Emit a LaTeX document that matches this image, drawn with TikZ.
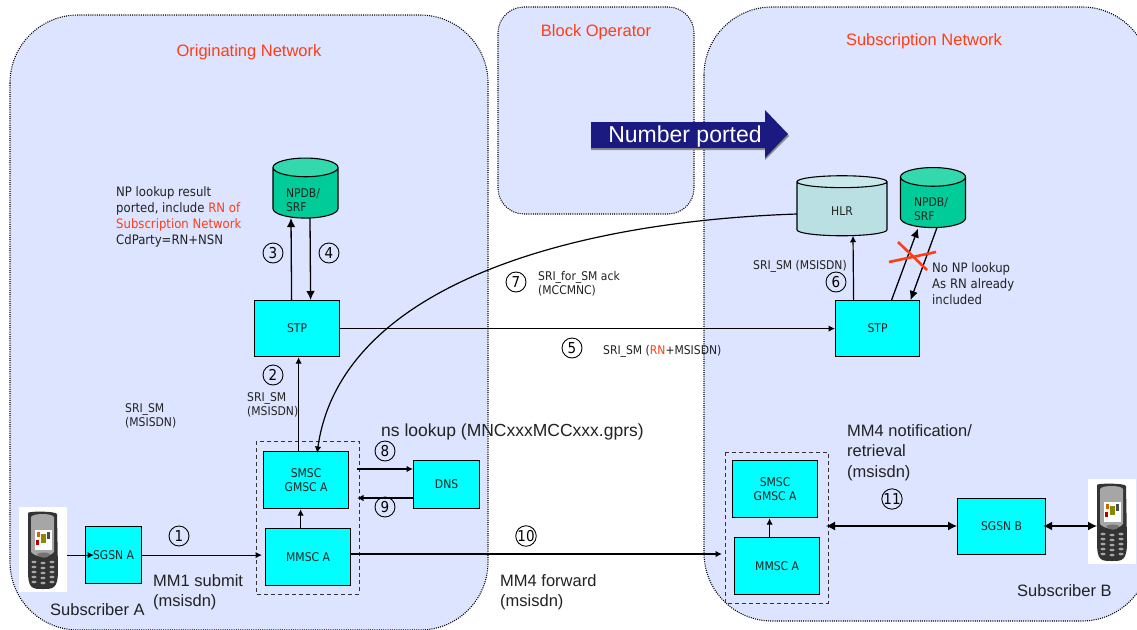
\documentclass[tikz,border=0pt]{standalone}
\usepackage{fontspec}
\setmainfont{Liberation Sans}
\newfontfamily\tah{DejaVu Sans Condensed}
\usetikzlibrary{shapes.geometric,arrows.meta,positioning}
\definecolor{regionfill}{HTML}{DDE4FF}
\definecolor{boxcyan}{HTML}{00FFFF}
\definecolor{npbody}{HTML}{00CC99}
\definecolor{nptop}{HTML}{33D9AD}
\definecolor{hlrbody}{HTML}{BBE0E3}
\definecolor{hlrtop}{HTML}{C8E8EB}
\definecolor{redlabel}{HTML}{FF3D14}
\definecolor{navyarrow}{HTML}{1A1A80}
\definecolor{txt}{HTML}{222222}
\tikzset{
  x=1pt,y=-1pt,
  region/.style={draw=black,line width=1.1pt,dash pattern=on 1pt off 1.2pt,fill=regionfill},
  cbox/.style={draw=black,line width=1.2pt,fill=boxcyan,anchor=north west,inner sep=0pt,font=\tah\fontsize{12}{14}\selectfont,text=txt,align=center},
  conn/.style={draw=black,line width=1.2pt,-{Latex[length=6.5pt,width=6.5pt]}},
  heavy/.style={draw=black,line width=1.3pt,-{Latex[length=9pt,width=8.5pt]}},
  both/.style={draw=black,line width=1.3pt,{Latex[length=9pt,width=9pt]}-{Latex[length=9pt,width=9pt]}},
  fence/.style={draw=black!80,line width=1pt,dash pattern=on 4pt off 3pt},
  small/.style={font=\tah\fontsize{13}{16}\selectfont,text=txt,align=left,inner sep=0pt},
  tiny/.style={font=\tah\fontsize{12}{14}\selectfont,text=txt,align=left,inner sep=0pt},
  big/.style={font=\fontsize{16.5}{20.5}\selectfont,text=txt,align=left,inner sep=0pt},
  title/.style={font=\fontsize{16.5}{18}\selectfont,text=redlabel,inner sep=0pt},
  num/.style={circle,draw=black,line width=0.9pt,inner sep=0pt,minimum size=20pt,font=\tah\fontsize{15}{15}\selectfont,text=black},
  drum/.style={cylinder,shape border rotate=90,aspect=0.55,draw=black,line width=1.1pt,inner sep=0pt,outer sep=0pt,cylinder uses custom fill,font=\tah\fontsize{12}{14}\selectfont,align=left},
  npdrum/.style={drum,cylinder end fill=nptop,cylinder body fill=npbody,minimum width=65pt,minimum height=60pt},
  hlrdrum/.style={drum,cylinder end fill=hlrtop,cylinder body fill=hlrbody,minimum width=90pt,minimum height=60pt},
  drumtext/.style={font=\tah\fontsize{12}{14}\selectfont,text=txt,align=left,inner sep=0pt},
  phonebg/.style={fill=white,draw=none,inner sep=0pt,anchor=north west,minimum width=48pt,minimum height=85pt},
}
\newcommand{\phonepic}[1]{%
  \begin{scope}[shift={(#1)}]
    \fill[black!80] (9,3) .. controls (9,1) and (37,1) .. (38,4) -- (39,60) .. controls (39,79) and (34,79) .. (24,79) .. controls (13,79) and (9,79) .. (9,60) -- cycle;
    \fill[black!35] (12,7) .. controls (14,3) and (33,3) .. (35,7) -- (35,42) .. controls (30,48) and (17,48) .. (12,42) -- cycle;
    \fill[white] (16,20) rectangle (33,40);
    \fill[orange!80!black] (18,22) rectangle (21,27);
    \fill[olive] (22,24) rectangle (27,33);
    \fill[black!70] (28,22) rectangle (31,29);
    \fill[red!70!black] (17,30) rectangle (20,35);
    \fill[black!55] (18,44) .. controls (22,42) and (28,42) .. (31,44) .. controls (30,49) and (20,49) .. (18,44) -- cycle;
    \foreach \r/\yy in {0/52,1/57,2/62,3/67,4/72}{
      \fill[black!35] (15,\yy) ellipse (2.6pt and 1.3pt);
      \fill[black!35] (24,\yy+1) ellipse (2.6pt and 1.3pt);
      \fill[black!35] (33,\yy) ellipse (2.6pt and 1.3pt);
    }
  \end{scope}}
\begin{document}
\begin{tikzpicture}
\useasboundingbox (0,0) rectangle (1137,629);
\clip (0,0) rectangle (1137,629);
\fill[white] (0,0) rectangle (1137,629);
% regions
\draw[region,rounded corners=68pt] (10,15) rectangle (488,630);
\draw[region,rounded corners=26pt] (498,7) rectangle (694,214);
\draw[region,rounded corners=68pt] (704,7) rectangle (1150,621);
\node[title,anchor=center] (t1) at (249,52) {Originating Network};
\node[title,anchor=center] (t2) at (596,32) {Block Operator};
\node[title,anchor=center] (t3) at (924,41) {Subscription Network};
% arrow banner
\fill[black!45] (591,124) -- (765,124) -- (765,112) -- (789,136) -- (765,160) -- (765,150) -- (591,150) -- cycle;
\fill[navyarrow] (591,122) -- (765,122) -- (765,110) -- (788,134) -- (765,158) -- (765,148) -- (591,148) -- cycle;
\node[font=\fontsize{23}{25}\selectfont,text=white,inner sep=0pt] (banner) at (685,137) {Number ported};
% boxes
\node[cbox,minimum width=85pt,minimum height=56pt] (stpa) at (254,300) {STP};
\node[cbox,minimum width=84pt,minimum height=56pt] (stpb) at (835,300) {STP};
\node[cbox,minimum width=85pt,minimum height=57pt] (smsca) at (263,451) {SMSC\\GMSC A};
\node[cbox,minimum width=85pt,minimum height=57pt] (mmsca) at (265,528) {MMSC A};
\node[cbox,minimum width=66pt,minimum height=48pt] (dns) at (413,460) {DNS};
\node[cbox,minimum width=56pt,minimum height=57pt] (sgsna) at (85,526) {SGSN A};
\node[cbox,minimum width=85pt,minimum height=57pt] (smscb) at (732,460) {SMSC\\GMSC A};
\node[cbox,minimum width=85pt,minimum height=57pt] (mmscb) at (734,537) {MMSC A};
\node[cbox,minimum width=88pt,minimum height=56pt] (sgsnb) at (957,498) {SGSN B};
\draw[fence] (256,441) rectangle (359,594);
\draw[fence] (725,452) rectangle (828,603);
% cylinders
\node[npdrum] (npa) at (305.5,193) {\phantom{NPDB/}\\\phantom{SRF}};
\node[npdrum] (npb) at (933,202.5) {\phantom{NPDB/}\\\phantom{SRF}};
\node[hlrdrum] (hlr) at (842,209) {\phantom{HLR}};
\node[drumtext] (npat) at (303,200) {NPDB/\\SRF};
\node[drumtext] (npbt) at (931,209) {NPDB/\\SRF};
\node[drumtext] (hlrt) at (842,211) {HLR};
% phones
\node[phonebg] (pha) at (19,507) {};
\phonepic{19,510}
\node[phonebg] (phb) at (1088,479) {};
\phonepic{1088,482}
% connectors
\draw[conn] (pha.east |- sgsna.west) -- ([xshift=9pt]sgsna.west);
\draw[conn] (sgsna.east) -- ([xshift=-3pt]mmsca.west |- sgsna.east);
\draw[conn] ([xshift=-7.5pt]smsca.north) -- ([xshift=1.5pt]stpa.south);
\draw[conn] ([xshift=-7.5pt]mmsca.north) -- ([xshift=-5.5pt]smsca.south);
\draw[heavy] ([xshift=-5.5pt]stpa.north) -- ([xshift=-14.5pt]npa.south);
\draw[heavy] ([xshift=4.5pt]npa.south) -- ([xshift=13.5pt]stpa.north);
\draw[conn] (stpa.east) -- (stpb.west);
\draw[conn] ([xshift=-24pt]stpb.north) -- (hlr.south -| 853,0);
\draw[heavy] ([xshift=14pt]stpb.north) -- ([xshift=-15pt,yshift=-1pt]npb.south);
\draw[heavy] ([xshift=4pt]npb.south) -- ([xshift=33pt]stpb.north);
\draw[conn] (357,469) -- (dns.west |- 0,469);
\draw[conn] (dns.west |- 0,498) -- (357,498);
\draw[conn] (mmsca.east |- 0,554) -- (722,554);
\draw[conn] ([xshift=-7.5pt]mmscb.north) -- ([xshift=-5.5pt]smscb.south);
\draw[both] (826,526) -- (sgsnb.west |- 0,526);
\draw[both] ([xshift=-3pt]sgsnb.east |- 0,526) -- (1097,526);
\draw[conn] (hlr.west |- 0,214) .. controls (560,222) and (340,290) .. ([xshift=11pt,yshift=-2pt]smsca.north);
% red cross
\draw[redlabel,line width=2.6pt] (898,242) -- (927,270);
\draw[redlabel,line width=2.6pt] (889,262) -- (936,252);
% numbers
\node[num] (n1) at (179,536) {1};
\node[num] (n2) at (273,375) {2};
\node[num] (n3) at (273,253) {3};
\node[num] (n4) at (329,253) {4};
\node[num] (n5) at (572,348) {5};
\node[num] (n6) at (836,282) {6};
\node[num] (n7) at (516,282) {7};
\node[num] (n8) at (385,451) {8};
\node[num] (n9) at (385,507) {9};
\node[num] (n10) at (526,536) {10};
\node[num] (n11) at (892,499) {11};
% labels
\node[small,anchor=north west] (l1) at (116,186) {NP lookup result\\ported, include \textcolor{redlabel}{RN of}\\\textcolor{redlabel}{Subscription Network}\\CdParty=RN+NSN};
\node[tiny,anchor=north west] (l2) at (247,392) {SRI\_SM\\(MSISDN)};
\node[tiny,anchor=north west] (l3) at (125,403) {SRI\_SM\\(MSISDN)};
\node[tiny,anchor=north west] (l4) at (538,271) {SRI\_for\_SM ack\\(MCCMNC)};
\node[tiny,anchor=west] (l5) at (603,351) {SRI\_SM (\textcolor{redlabel}{RN}+MSISDN)};
\node[tiny,anchor=west] (l6) at (753,266) {SRI\_SM (MSISDN)};
\node[small,anchor=north west] (l7) at (932,262) {No NP lookup\\As RN already\\included};
\node[big,anchor=west,font=\fontsize{17.5}{20}\selectfont] (l8) at (381,432) {ns lookup (MNCxxxMCCxxx.gprs)};
\node[big,anchor=north west] (l9) at (847,424) {MM4 notification/\\retrieval\\(msisdn)};
\node[big,anchor=north west] (l10) at (153,574) {MM1 submit\\(msisdn)};
\node[big,anchor=north west] (l11) at (500,574) {MM4 forward\\(msisdn)};
\node[big,anchor=west] (l12) at (50,610) {Subscriber A};
\node[big,anchor=west] (l13) at (1017,591) {Subscriber B};
\end{tikzpicture}
\end{document}
